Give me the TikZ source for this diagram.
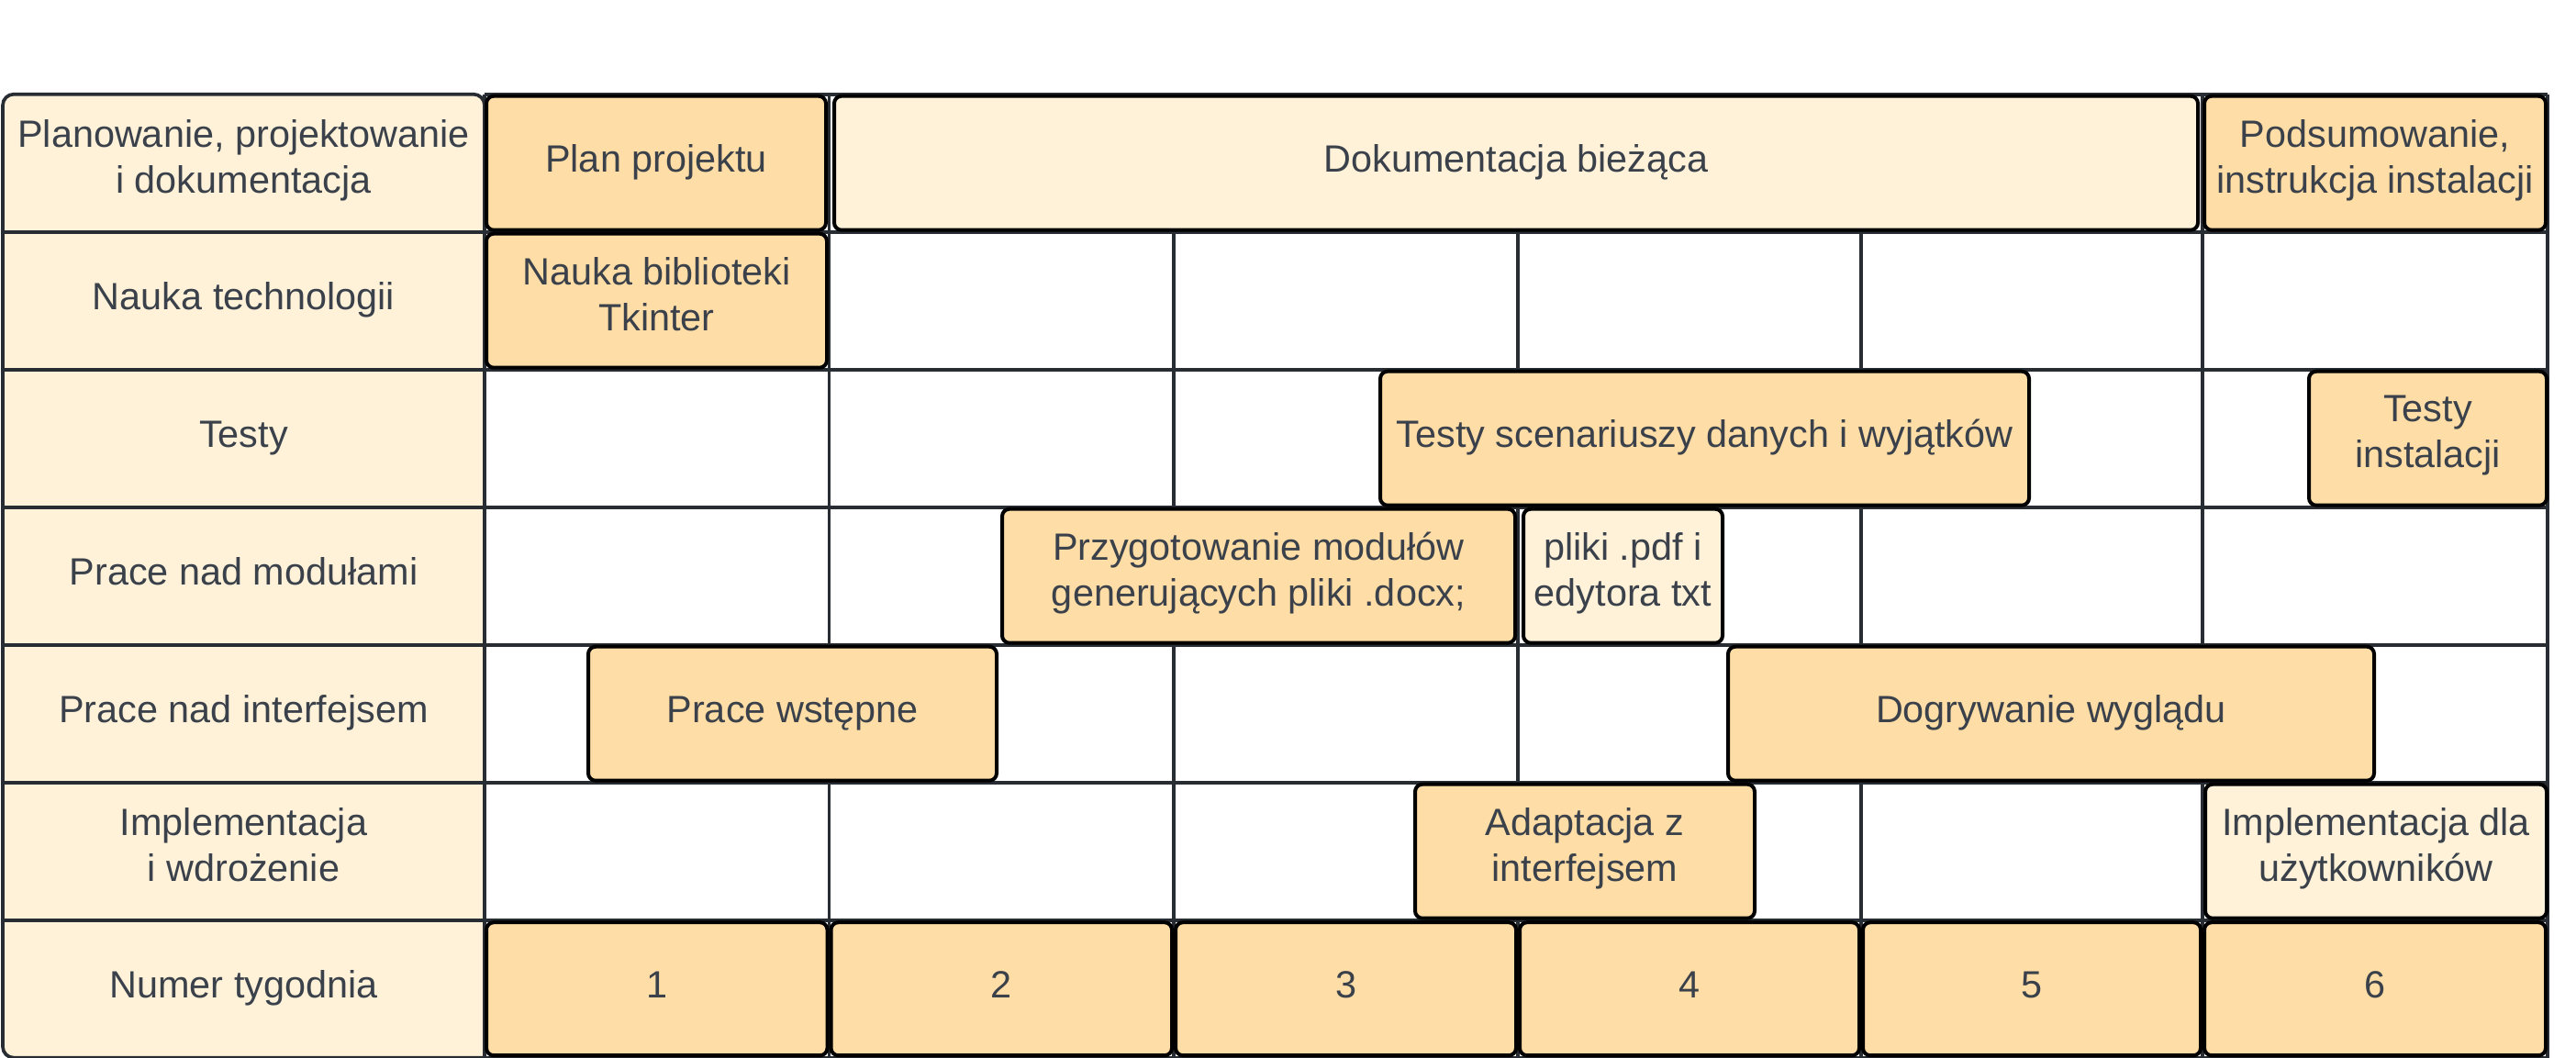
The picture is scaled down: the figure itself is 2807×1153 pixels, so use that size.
\documentclass[tikz,border=0pt]{standalone}
\usepackage{fontspec}
\setmainfont{Liberation Sans}
\usepackage{xcolor}
\usetikzlibrary{arrows.meta, positioning}
\definecolor{lightFill}{HTML}{FFF2D9}
\definecolor{darkFill}{HTML}{FFDDA6}
\definecolor{gridLine}{HTML}{282C33}
\definecolor{textGray}{HTML}{3A414A}
\newcommand{\lineStrut}{\rule[-14.9pt]{0pt}{50pt}}
\tikzset{
  chartFont/.style={font=\fontsize{41.4}{50}\selectfont, text=textGray,
    execute at begin node=\lineStrut, execute at end node=\lineStrut},
  task/.style={chartFont, draw=black, line width=4pt, rounded corners=8pt,
    fill=darkFill, align=center, inner sep=0pt, outer sep=0pt, minimum height=146pt},
  taskLight/.style={task, fill=lightFill},
  rowLabel/.style={chartFont, align=center, inner sep=0pt},
  gridRule/.style={draw=gridLine, line width=3.7pt}
}

\begin{document}
\begin{tikzpicture}[x=1pt,y=-1pt]
\useasboundingbox (0,0) rectangle (2807,1153);
% grid of the weeks
\foreach \r in {0,...,7}
  \draw[gridRule] (528,{102.7+150*\r}) -- (2776,{102.7+150*\r});
\foreach \xc in {528,903.5,1279,1654,2028,2400,2776}
  \draw[gridRule] (\xc,102.7) -- (\xc,1152.7);
% label column
\draw[gridRule, fill=lightFill, rounded corners=12pt]
  (528,1152.7) -- (3,1152.7) -- (3,102.7) -- (528,102.7) [sharp corners] -- cycle;
\foreach \r in {1,...,6}
  \draw[gridRule] (3,{102.7+150*\r}) -- (528,{102.7+150*\r});

\node[rowLabel] (rowPlan) at (265.5,177.7) {Planowanie, projektowanie\\i dokumentacja};
\node[rowLabel] (rowLearn) at (265.5,327.7) {Nauka technologii};
\node[rowLabel] (rowTests) at (265.5,477.7) {Testy};
\node[rowLabel] (rowModules) at (265.5,627.7) {Prace nad modułami};
\node[rowLabel] (rowGui) at (265.5,777.7) {Prace nad interfejsem};
\node[rowLabel] (rowDeploy) at (265.5,927.7) {Implementacja\\i wdrożenie};
\node[rowLabel] (rowWeek) at (265.5,1077.7) {Numer tygodnia};

% tasks
\node[task, minimum width=370pt] (planBox) at (715,177.7) {Plan projektu};
\node[taskLight, minimum width=1486pt] (docBox) at (1652,177.7) {Dokumentacja bieżąca};
\node[task, minimum width=372pt] (summaryBox) at (2588,177.7) {Podsumowanie,\\instrukcja instalacji};
\node[task, minimum width=371pt] (tkinterBox) at (715.5,327.7) {Nauka biblioteki\\Tkinter};
\node[task, minimum width=707pt] (scenarioBox) at (1857.5,477.7) {Testy scenariuszy danych i wyjątków};
\node[task, minimum width=259pt] (installTestBox) at (2645.5,477.7) {Testy\\instalacji};
\node[task, minimum width=559pt] (docxBox) at (1371.5,627.7) {Przygotowanie modułów\\generujących pliki .docx;};
\node[taskLight, minimum width=217pt] (pdfBox) at (1768.5,627.7) {pliki .pdf i\\edytora txt};
\node[task, minimum width=445pt] (prelimBox) at (863.5,777.7) {Prace wstępne};
\node[task, minimum width=704pt] (lookBox) at (2235,777.7) {Dogrywanie wyglądu};
\node[task, minimum width=370pt] (adaptBox) at (1727,927.7) {Adaptacja z\\interfejsem};
\node[taskLight, minimum width=372pt] (usersBox) at (2589,927.7) {Implementacja dla\\użytkowników};

% week numbers
\foreach \xa/\xb [count=\w] in {528/903.5,903.5/1279,1279/1654,1654/2028,2028/2400,2400/2776}
  \node[task, minimum width={\xb-\xa-4}, minimum height=145pt] (week\w) at ({(\xa+\xb)/2},1077.7) {\w};
\end{tikzpicture}
\end{document}
